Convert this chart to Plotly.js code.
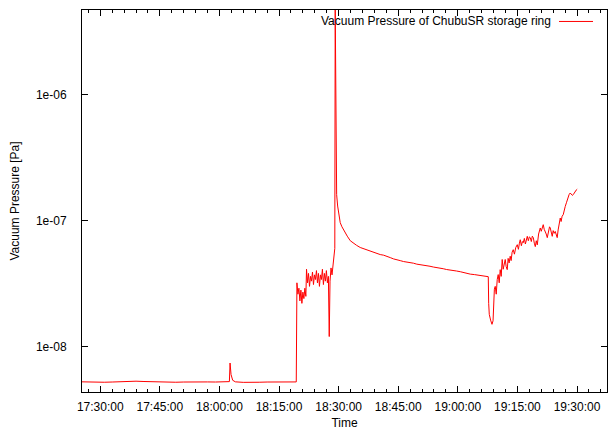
<!DOCTYPE html>
<html>
<head>
<meta charset="utf-8">
<script src="https://cdn.plot.ly/plotly-3.0.1.min.js"></script>
<style>html,body{margin:0;padding:0;background:#fff;}#chart{width:611px;height:430px;}</style>
</head>
<body>
<div id="chart"></div>
<script>
// ---- data ----
const seriesName = "Vacuum Pressure of ChubuSR storage ring";
const times = [
"17:25:24","17:27:00","17:29:00","17:31:00","17:33:00","17:35:00","17:37:00","17:39:00","17:41:00","17:43:00",
"17:45:00","17:47:00","17:49:00","17:51:00","17:53:00","17:55:00","17:57:00","17:59:00","18:01:00","18:02:30",
"18:02:40","18:02:55","18:03:20","18:04:00","18:06:00","18:08:00","18:10:00","18:12:00","18:14:00","18:16:00",
"18:18:00","18:19:20","18:19:30","18:19:45","18:20:00","18:20:15","18:20:30","18:20:45","18:21:00","18:21:15",
"18:21:30","18:21:45","18:21:55","18:22:10","18:22:25","18:22:40","18:22:55","18:23:10","18:23:25","18:23:40",
"18:23:55","18:24:10","18:24:25","18:24:40","18:24:55","18:25:10","18:25:25","18:25:40","18:25:55","18:26:10",
"18:26:25","18:26:40","18:26:55","18:27:10","18:27:25","18:27:38","18:27:50","18:28:05","18:28:20","18:28:35",
"18:28:50","18:29:02","18:29:08","18:29:30","18:29:45","18:30:00","18:30:24","18:30:50","18:31:15","18:31:40",
"18:32:10","18:32:56","18:33:40","18:34:30","18:35:26","18:36:20","18:37:10","18:38:00","18:38:50","18:39:40",
"18:40:28","18:41:20","18:42:10","18:43:00","18:43:50","18:44:40","18:45:30","18:46:20","18:47:10","18:48:00",
"18:48:50","18:49:40","18:50:32","18:51:20","18:52:10","18:53:00","18:53:50","18:54:40","18:55:35","18:56:20",
"18:57:10","18:58:00","18:58:50","18:59:40","19:00:37","19:01:50","19:03:08","19:04:10","19:05:00","19:06:10",
"19:07:24","19:07:40","19:07:46","19:07:55","19:08:15","19:08:36","19:08:52","19:09:04","19:09:12","19:09:25",
"19:09:40","19:09:55","19:10:10","19:10:25","19:10:40","19:10:55","19:11:10","19:11:25","19:11:40","19:11:56",
"19:12:10","19:12:26","19:12:40","19:12:55","19:13:11","19:13:25","19:13:40","19:13:57","19:14:15","19:14:35",
"19:14:58","19:15:15","19:15:30","19:15:43","19:16:00","19:16:15","19:16:28","19:16:45","19:17:00","19:17:15",
"19:17:29","19:17:45","19:18:00","19:18:14","19:18:30","19:18:45","19:19:00","19:19:15","19:19:30","19:19:45",
"19:20:00","19:20:20","19:20:45","19:21:00","19:21:15","19:21:30","19:21:45","19:22:00","19:22:15","19:22:31",
"19:22:50","19:23:05","19:23:16","19:23:30","19:23:46","19:24:00","19:24:15","19:24:31","19:24:45","19:25:01",
"19:25:15","19:25:30","19:25:47","19:26:00","19:26:15","19:26:32","19:26:45","19:27:02","19:27:20","19:27:35",
"19:27:47","19:28:00","19:28:17","19:28:35","19:28:50","19:29:03","19:29:20","19:29:33","19:29:48","19:30:03"
];
const pressure = [
5.25e-9,5.22e-9,5.24e-9,5.21e-9,5.23e-9,5.26e-9,5.30e-9,5.31e-9,5.28e-9,5.25e-9,
5.22e-9,5.24e-9,5.21e-9,5.23e-9,5.25e-9,5.22e-9,5.24e-9,5.23e-9,5.25e-9,5.27e-9,
7.4e-9,6.0e-9,5.4e-9,5.25e-9,5.20e-9,5.18e-9,5.21e-9,5.23e-9,5.24e-9,5.22e-9,
5.25e-9,5.24e-9,3.2e-8,2.6e-8,2.9e-8,2.3e-8,2.8e-8,2.2e-8,2.7e-8,2.4e-8,
2.9e-8,2.5e-8,4.1e-8,3.2e-8,3.8e-8,3.0e-8,3.6e-8,3.3e-8,3.9e-8,3.1e-8,
3.7e-8,3.4e-8,4.0e-8,3.2e-8,3.8e-8,3.0e-8,3.7e-8,3.4e-8,4.1e-8,3.1e-8,
3.8e-8,3.3e-8,4.0e-8,3.2e-8,3.6e-8,1.2e-8,3.3e-8,4.2e-8,3.7e-8,4.6e-8,
5.3e-8,6.0e-8,5.0e-6,1.6e-7,1.3e-7,1.12e-7,9.6e-8,8.9e-8,8.4e-8,8.0e-8,
7.5e-8,6.9e-8,6.6e-8,6.35e-8,6.1e-8,5.95e-8,5.8e-8,5.72e-8,5.58e-8,5.47e-8,
5.36e-8,5.3e-8,5.15e-8,5.07e-8,4.95e-8,4.9e-8,4.8e-8,4.72e-8,4.69e-8,4.6e-8,
4.58e-8,4.5e-8,4.47e-8,4.42e-8,4.36e-8,4.33e-8,4.27e-8,4.24e-8,4.17e-8,4.14e-8,
4.08e-8,4.06e-8,4.0e-8,3.97e-8,3.92e-8,3.82e-8,3.75e-8,3.72e-8,3.68e-8,3.65e-8,
3.6e-8,3.58e-8,2.2e-8,1.8e-8,1.62e-8,1.5e-8,1.6e-8,2.5e-8,2.85e-8,3.0e-8,
2.6e-8,3.4e-8,3.72e-8,3.2e-8,4.07e-8,3.6e-8,4.9e-8,4.1e-8,4.6e-8,4.9e-8,
4.3e-8,4.07e-8,5.0e-8,4.6e-8,5.2e-8,4.8e-8,5.6e-8,5.86e-8,5.4e-8,6.1e-8,
6.42e-8,5.9e-8,6.6e-8,7.03e-8,6.3e-8,6.8e-8,6.66e-8,7.2e-8,6.5e-8,7.1e-8,
7.48e-8,6.9e-8,7.4e-8,7.3e-8,6.8e-8,7.5e-8,7.3e-8,6.6e-8,6.2e-8,6.9e-8,
6.4e-8,7.8e-8,8.71e-8,8.2e-8,9.0e-8,9.25e-8,8.5e-8,8.18e-8,7.8e-8,7.3e-8,
8.0e-8,8.9e-8,8.71e-8,8.1e-8,7.48e-8,8.3e-8,7.9e-8,8.18e-8,7.6e-8,7.3e-8,
8.4e-8,9.6e-8,1.045e-7,9.8e-8,1.08e-7,1.11e-7,1.2e-7,1.29e-7,1.38e-7,1.48e-7,
1.55e-7,1.6e-7,1.65e-7,1.62e-7,1.58e-7,1.6e-7,1.66e-7,1.7e-7,1.74e-7,1.77e-7
];
const xTickStart = "17:30:00";
const xRange = ["17:25:24", "19:37:33"];
const yTickVals = [1e-8, 1e-7, 1e-6];
const yTickText = ["1e-08", "1e-07", "1e-06"];
const yMinorTickVals = [5e-9,6e-9,7e-9,8e-9,9e-9,
  2e-8,3e-8,4e-8,5e-8,6e-8,7e-8,8e-8,9e-8,
  2e-7,3e-7,4e-7,5e-7,6e-7,7e-7,8e-7,9e-7,
  2e-6,3e-6,4e-6];
const yRange = [4.36e-9, 4.66e-6];
const xTitle = "Time";
const yTitle = "Vacuum Pressure [Pa]";

// ---- chart ----
const day = "2024-01-01 ";
const FONT = "Liberation Sans, Arial, Helvetica, sans-serif";
const FS = 12;
const PLOT_W = 611 - 82 - 4;
const MINOR_LEN = 3 / PLOT_W;
const trace = {
  x: times.map(t => day + t),
  y: pressure,
  type: "scatter",
  mode: "lines",
  name: seriesName,
  line: {color: "#ff0000", width: 1},
  showlegend: false,
  hoverinfo: "x+y"
};
// minor log ticks (2..9 per decade) on left and right frame; shape coords on a log axis are log10 values
const minorTickShapes = [];
yMinorTickVals.forEach(v => {
  const ly = Math.log10(v);
  minorTickShapes.push({type: "line", xref: "paper", yref: "y", x0: 0, x1: MINOR_LEN, y0: ly, y1: ly,
    line: {color: "#000", width: 1}});
  minorTickShapes.push({type: "line", xref: "paper", yref: "y", x0: 1 - MINOR_LEN, x1: 1, y0: ly, y1: ly,
    line: {color: "#000", width: 1}});
});
const layout = {
  width: 611, height: 430,
  margin: {l: 82, r: 4, t: 10, b: 38, pad: 0},
  paper_bgcolor: "#fff", plot_bgcolor: "#fff",
  font: {family: FONT, size: FS, color: "#000"},
  xaxis: {
    type: "date",
    range: [day + xRange[0], day + xRange[1]],
    tickmode: "linear", tick0: day + xTickStart, dtick: 900000,
    tickformat: "%H:%M:%S",
    showline: true, linecolor: "#000", linewidth: 1, mirror: "allticks",
    ticks: "inside", ticklen: 6, tickwidth: 1, tickcolor: "#000",
    showgrid: false, zeroline: false,
    tickfont: {family: FONT, size: FS, color: "#000"},
    ticklabelstandoff: 4,
    minor: {dtick: 180000, tick0: day + xTickStart, ticks: "inside", ticklen: 3, tickcolor: "#000", showgrid: false},
    title: {text: xTitle, font: {family: FONT, size: FS, color: "#000"}, standoff: 5}
  },
  yaxis: {
    type: "log",
    range: [Math.log10(yRange[0]), Math.log10(yRange[1])],
    tickmode: "array", tickvals: yTickVals, ticktext: yTickText,
    showline: true, linecolor: "#000", linewidth: 1, mirror: "allticks",
    ticks: "inside", ticklen: 6, tickwidth: 1, tickcolor: "#000",
    showgrid: false, zeroline: false,
    tickfont: {family: FONT, size: FS, color: "#000"},
    ticklabelstandoff: 12,
    title: {text: yTitle, font: {family: FONT, size: FS, color: "#000"}, standoff: 13}
  },
  annotations: [{
    xref: "paper", yref: "paper", x: (553 - 82) / PLOT_W, y: 0.970,
    xanchor: "right", yanchor: "middle", showarrow: false,
    text: seriesName, font: {family: FONT, size: FS, color: "#000"}
  }],
  shapes: [{
    type: "line", xref: "paper", yref: "paper",
    x0: (559 - 82) / PLOT_W, x1: (593 - 82) / PLOT_W, y0: 0.970, y1: 0.970,
    line: {color: "#ff0000", width: 1}
  }].concat(minorTickShapes)
};
Plotly.newPlot("chart", [trace], layout, {staticPlot: true, displayModeBar: false});
</script>
</body>
</html>
